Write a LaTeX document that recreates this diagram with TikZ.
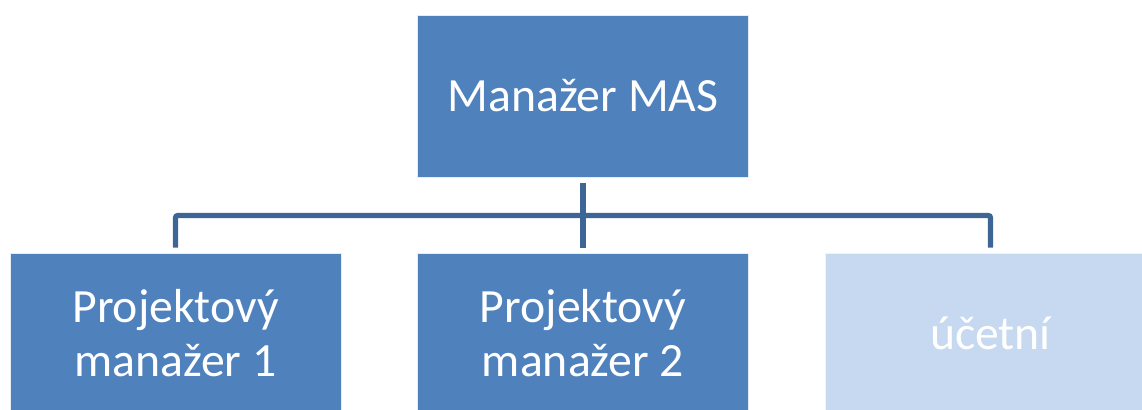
\documentclass[tikz,border=0pt]{standalone}
\usepackage{fontspec}
\setmainfont{Carlito}
\definecolor{boxblue}{HTML}{4F81BD}
\definecolor{boxlight}{HTML}{C6D9F0}
\definecolor{linkblue}{HTML}{3D6696}
\tikzset{
  orgbox/.style={rectangle, fill=boxblue, draw=white!85!boxblue, line width=0.6pt, text=white,
    minimum width=331*0.75pt, minimum height=160*0.75pt, inner sep=0pt, align=center,
    font=\fontsize{35.8pt}{41pt}\selectfont},
  lightbox/.style={orgbox, fill=boxlight, draw=white!70!boxlight},
  conn/.style={draw=linkblue, line width=3.8pt, rounded corners=1.5pt}
}
\begin{document}
\begin{tikzpicture}[x=0.75pt, y=-0.75pt]
\useasboundingbox (0,0) rectangle (1142,410);
\clip (0,0) rectangle (1142,410);
\node[orgbox, minimum height=162*0.75pt] (top) at (583,96) {Manažer MAS};
\node[orgbox] (p1) at (175.5,333) {Projektový\\manažer 1};
\node[orgbox] (p2) at (583,333) {Projektový\\manažer 2};
\node[lightbox] (ac) at (990.5,333) {účetní};
\coordinate (bus) at (583,215.5);
\draw[conn] ([yshift=-6*0.75pt]top.south) -- ([yshift=5*0.75pt]p2.north);
\draw[conn] ([yshift=5*0.75pt]p1.north) |- (bus) -| ([yshift=5*0.75pt]ac.north);
\end{tikzpicture}
\end{document}
